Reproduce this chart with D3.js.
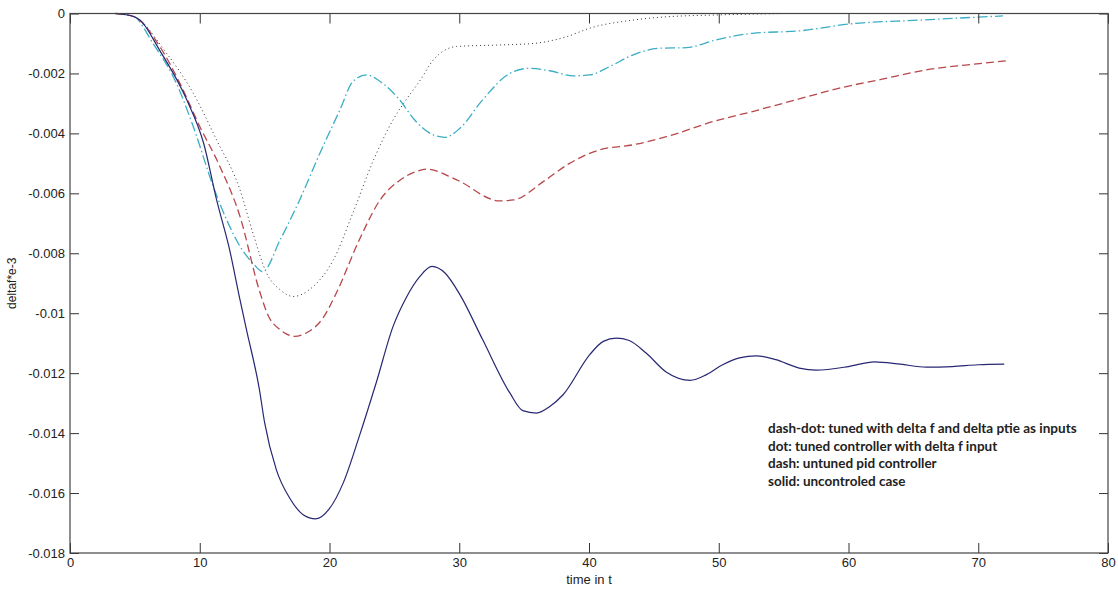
<!DOCTYPE html>
<html>
<head>
<meta charset="utf-8">
<script src="https://cdn.jsdelivr.net/npm/d3@7"></script>
<style>
  body { margin: 0; background: #fff; }
  svg { display: block; }
  .axis text { font-family: "Liberation Sans", Arial, sans-serif; font-size: 13px; fill: #222; }
  .legend text { font-family: Lato, "Open Sans", sans-serif; font-weight: bold; font-size: 13.5px; fill: #222; }
</style>
</head>
<body>
<div id="chart"></div>
<script>
// time values (t) and responses
const solidT = [3.5, 4.9, 5.4, 6.9, 9.0, 10.3, 11.3, 12.3, 13.1, 13.6, 14.6, 15.0, 15.9, 16.95, 17.97, 18.95, 19.98, 21.06, 22.3, 23.6, 24.9, 25.9, 26.97, 27.9, 28.9, 30.05, 31.8, 33.9, 34.9, 35.95, 36.98, 38.0, 40.06, 41.1, 42.1, 43.1, 44.4, 45.97, 47.8, 49.05, 50.3, 51.6, 52.9, 54.4, 56.2, 57.5, 60, 62, 64, 66, 68, 70, 72];
const solidY = [0, -0.0001, -0.00022, -0.00122, -0.00288, -0.00433, -0.00622, -0.00788, -0.00955, -0.01055, -0.01255, -0.01365, -0.01522, -0.01618, -0.01672, -0.01686, -0.01653, -0.01566, -0.0141, -0.01232, -0.01044, -0.00949, -0.00877, -0.00844, -0.00866, -0.00938, -0.01088, -0.01266, -0.01325, -0.01333, -0.01311, -0.01272, -0.01138, -0.01094, -0.01083, -0.01091, -0.01133, -0.01197, -0.01224, -0.01205, -0.01172, -0.01149, -0.01142, -0.01155, -0.01183, -0.0119, -0.01178, -0.01162, -0.0117, -0.0118, -0.01178, -0.01172, -0.0117];

const dashT = [3.5, 4.9, 6.93, 8.47, 10.0, 11.56, 13.1, 14.6, 15.3, 16.2, 17.3, 18.2, 19.5, 20.5, 22.3, 23.9, 25.4, 26.7, 27.5, 29.8, 33.1, 34.2, 36.5, 38.5, 40.8, 43.4, 45.97, 49.6, 52.6, 56.2, 59.3, 62.5, 66.0, 69.0, 72.2];
const dashY = [0, -0.0001, -0.00111, -0.00233, -0.00377, -0.00511, -0.00677, -0.00925, -0.0101, -0.01055, -0.01077, -0.01066, -0.01016, -0.00935, -0.00755, -0.00622, -0.00557, -0.00527, -0.00519, -0.00555, -0.00625, -0.00622, -0.0056, -0.005, -0.00455, -0.00438, -0.00411, -0.0036, -0.00327, -0.00285, -0.00249, -0.0022, -0.00188, -0.00172, -0.00158];

const dotT = [3.5, 4.9, 7.45, 9.5, 11.3, 13.1, 14.1, 15.15, 16.2, 17.2, 18.74, 20.3, 21.8, 23.4, 24.9, 25.9, 27.0, 28.0, 29.8, 33.1, 35.7, 38.3, 40.06, 43.4, 45.97, 49.8, 55.2];
const dotY = [0, -0.0001, -0.00133, -0.00266, -0.00422, -0.00588, -0.00733, -0.00866, -0.00922, -0.00944, -0.00911, -0.00822, -0.00666, -0.00488, -0.00355, -0.00288, -0.00222, -0.00155, -0.0011, -0.00105, -0.001, -0.00077, -0.00049, -0.00022, -0.00011, -0.00005, 0];

const dashDotT = [3.5, 4.9, 6.4, 8.2, 9.5, 11.04, 12.07, 13.1, 14.1, 14.85, 16.2, 17.7, 19.26, 20.8, 21.8, 22.85, 24.1, 25.4, 26.5, 28.0, 28.9, 30.05, 31.8, 33.9, 35.4, 36.98, 38.8, 40.06, 41.6, 43.4, 45.4, 47.5, 49.8, 52.6, 56.2, 60.1, 65.5, 71.9];
const dashDotY = [0, -0.0001, -0.001, -0.00233, -0.00377, -0.00577, -0.00688, -0.00777, -0.00833, -0.00861, -0.00755, -0.00622, -0.00466, -0.00322, -0.00227, -0.00205, -0.00233, -0.00288, -0.00352, -0.00405, -0.00413, -0.00383, -0.00288, -0.002, -0.00183, -0.00191, -0.00208, -0.00205, -0.00177, -0.00138, -0.00116, -0.00114, -0.00088, -0.00066, -0.00058, -0.00035, -0.00022, -0.00008];

const xTicks = [0, 10, 20, 30, 40, 50, 60, 70, 80];
const yTicks = [0, -0.002, -0.004, -0.006, -0.008, -0.01, -0.012, -0.014, -0.016, -0.018];

const legendLines = [
    'dash-dot: tuned with delta f and delta ptie as inputs',
    'dot: tuned controller with delta f input',
    'dash: untuned pid controller',
    'solid: uncontroled case'
];

const series = [
    {t: dotT, y: dotY, color: '#333333', dash: '1,3', width: 1},
    {t: dashDotT, y: dashDotY, color: '#3aaec4', dash: '10,3,1.5,3', width: 1.3},
    {t: dashT, y: dashY, color: '#b8474a', dash: '8,4', width: 1.3},
    {t: solidT, y: solidY, color: '#272773', dash: null, width: 1.2}
];

const W = 1118, H = 592;
const margin = {top: 13.5, right: 10, bottom: 39, left: 70};
const width = W - margin.left - margin.right;
const height = H - margin.top - margin.bottom;

const svg = d3.select('#chart')
    .append('svg')
    .attr('width', W)
    .attr('height', H);

svg.append('rect').attr('width', W).attr('height', H).attr('fill', '#fff');

const g = svg.append('g')
    .attr('transform', `translate(${margin.left},${margin.top})`);

const x = d3.scaleLinear().domain([0, 80]).range([0, width]);
const y = d3.scaleLinear().domain([-0.018, 0]).range([height, 0]);

const yFmt = d => d === 0 ? '0' : String(+d.toFixed(3));

// series lines
const line = d3.line()
    .x(d => x(d[0]))
    .y(d => y(d[1]))
    .curve(d3.curveMonotoneX);

series.forEach(s => {
    const pts = s.t.map((t, i) => [t, s.y[i]]);
    g.append('path')
        .datum(pts)
        .attr('fill', 'none')
        .attr('stroke', s.color)
        .attr('stroke-width', s.width)
        .attr('stroke-dasharray', s.dash)
        .attr('d', line);
});

// axes, MATLAB style box with inward ticks
g.append('g')
    .attr('class', 'axis')
    .attr('transform', `translate(0,${height})`)
    .call(d3.axisBottom(x).tickValues(xTicks).tickSize(-10).tickPadding(5).tickFormat(d3.format('d')))
    .call(a => a.select('.domain').remove());

g.append('g')
    .attr('class', 'axis')
    .call(d3.axisTop(x).tickValues(xTicks).tickSize(-10).tickFormat(''))
    .call(a => a.select('.domain').remove());

g.append('g')
    .attr('class', 'axis')
    .call(d3.axisLeft(y).tickValues(yTicks).tickSize(-9).tickPadding(5).tickFormat(yFmt))
    .call(a => a.select('.domain').remove());

g.append('g')
    .attr('class', 'axis')
    .attr('transform', `translate(${width},0)`)
    .call(d3.axisRight(y).tickValues(yTicks).tickSize(-9).tickFormat(''))
    .call(a => a.select('.domain').remove());

g.selectAll('.axis .tick line').attr('stroke', '#333');

g.append('rect')
    .attr('width', width)
    .attr('height', height)
    .attr('fill', 'none')
    .attr('stroke', '#444')
    .attr('stroke-width', 1.2);

// axis labels
svg.append('text')
    .attr('x', margin.left + width / 2)
    .attr('y', 584)
    .attr('text-anchor', 'middle')
    .style('font-family', '"Liberation Sans", Arial, sans-serif')
    .style('font-size', '13px')
    .attr('fill', '#222')
    .text('time in t');

svg.append('text')
    .attr('transform', `translate(16,${margin.top + height / 2}) rotate(-90)`)
    .attr('text-anchor', 'middle')
    .style('font-family', '"Liberation Sans", Arial, sans-serif')
    .style('font-size', '12px')
    .attr('fill', '#222')
    .text('deltaf*e-3');

// annotation text
svg.append('g')
    .attr('class', 'legend')
    .selectAll('text')
    .data(legendLines)
    .enter()
    .append('text')
    .attr('x', 768)
    .attr('y', (d, i) => 433 + i * 17.7)
    .text(d => d);
</script>
</body>
</html>
